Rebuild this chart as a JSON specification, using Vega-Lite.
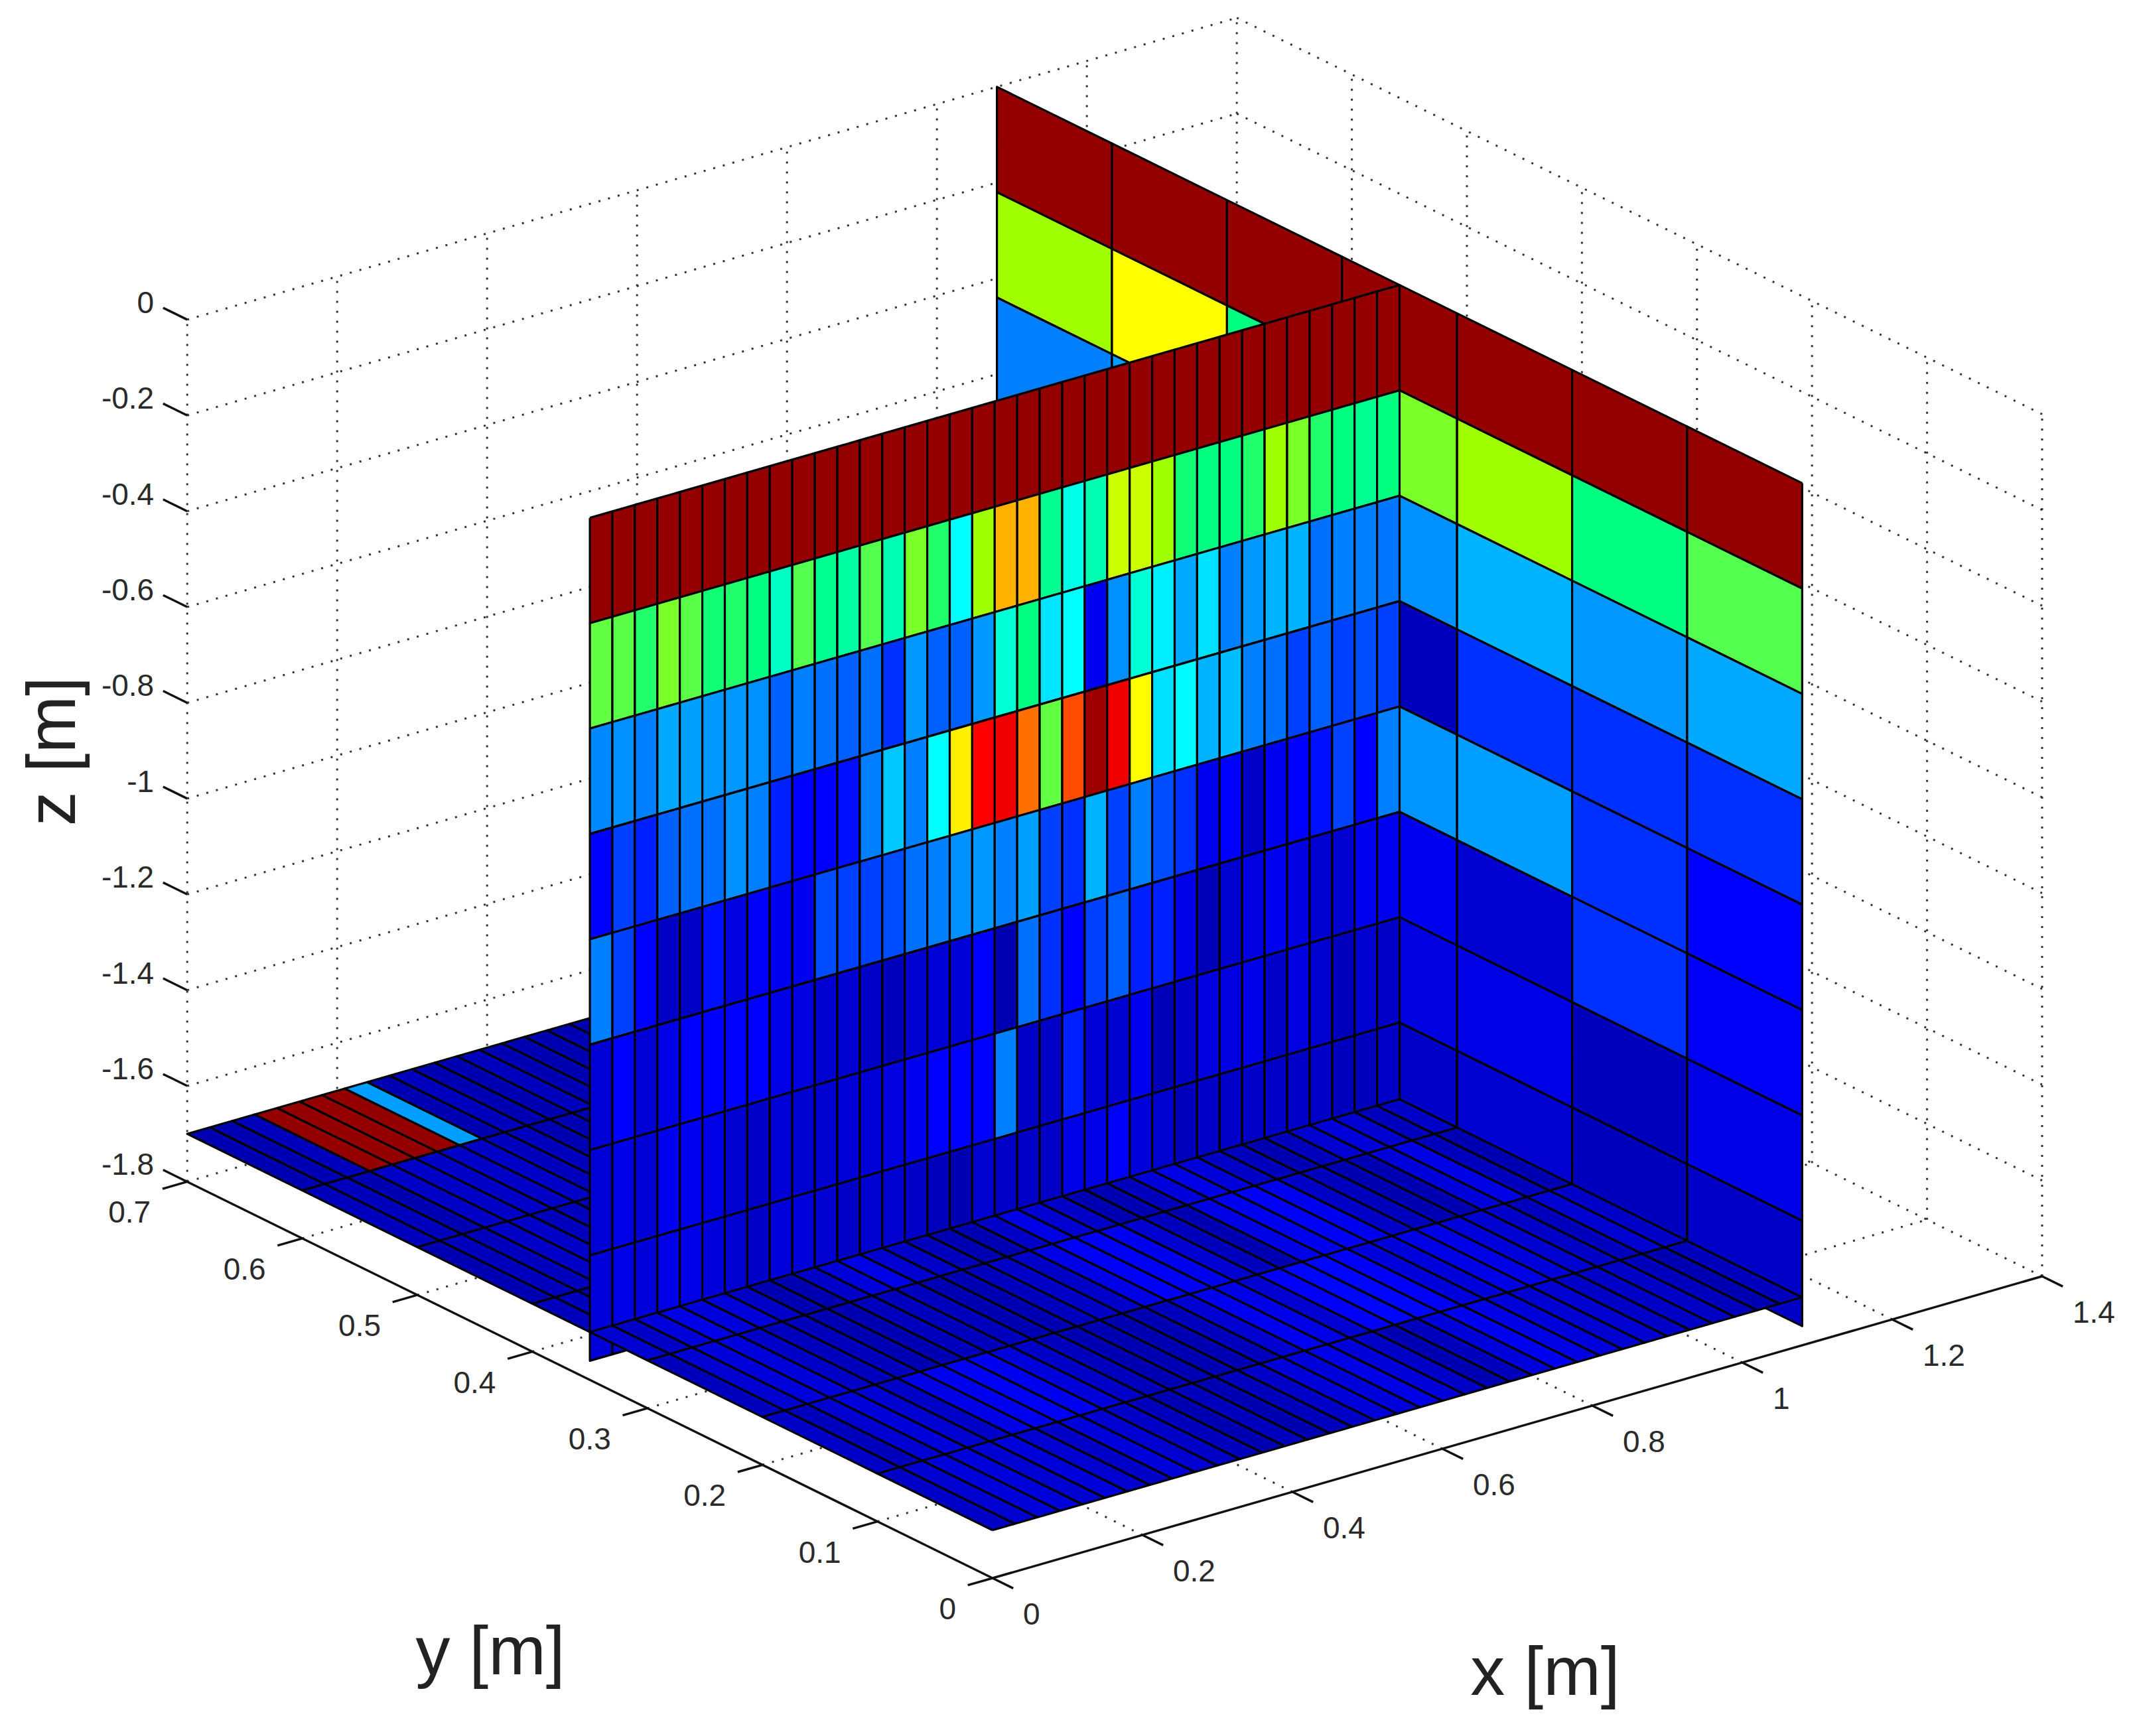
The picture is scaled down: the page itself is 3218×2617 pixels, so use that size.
{"$schema":"https://vega.github.io/schema/vega-lite/v6.json","width":3218,"height":2617,"autosize":{"type":"fit","contains":"padding"},"padding":0,"background":"white","view":{"stroke":null},
"datasets":{
"grid":[
{"x":[0,0],"y":[0.7,0.7],"z":[-1.8,0],"g":1},{"x":[0.2,0.2],"y":[0.7,0.7],"z":[-1.8,0],"g":2},{"x":[0.4,0.4],"y":[0.7,0.7],"z":[-1.8,0],"g":3},{"x":[0.6,0.6],"y":[0.7,0.7],"z":[-1.8,0],"g":4},{"x":[0.8,0.8],"y":[0.7,0.7],"z":[-1.8,0],"g":5},{"x":[1,1],"y":[0.7,0.7],"z":[-1.8,0],"g":6},{"x":[1.2,1.2],"y":[0.7,0.7],"z":[-1.8,0],"g":7},{"x":[1.4,1.4],"y":[0.7,0.7],"z":[-1.8,0],"g":8},
{"x":[1.4,1.4],"y":[0,0],"z":[-1.8,0],"g":9},{"x":[1.4,1.4],"y":[0.1,0.1],"z":[-1.8,0],"g":10},{"x":[1.4,1.4],"y":[0.2,0.2],"z":[-1.8,0],"g":11},{"x":[1.4,1.4],"y":[0.3,0.3],"z":[-1.8,0],"g":12},{"x":[1.4,1.4],"y":[0.4,0.4],"z":[-1.8,0],"g":13},{"x":[1.4,1.4],"y":[0.5,0.5],"z":[-1.8,0],"g":14},{"x":[1.4,1.4],"y":[0.6,0.6],"z":[-1.8,0],"g":15},
{"x":[0,1.4],"y":[0.7,0.7],"z":[0,0],"g":20},{"x":[0,1.4],"y":[0.7,0.7],"z":[-0.2,-0.2],"g":21},{"x":[0,1.4],"y":[0.7,0.7],"z":[-0.4,-0.4],"g":22},{"x":[0,1.4],"y":[0.7,0.7],"z":[-0.6,-0.6],"g":23},{"x":[0,1.4],"y":[0.7,0.7],"z":[-0.8,-0.8],"g":24},{"x":[0,1.4],"y":[0.7,0.7],"z":[-1,-1],"g":25},{"x":[0,1.4],"y":[0.7,0.7],"z":[-1.2,-1.2],"g":26},{"x":[0,1.4],"y":[0.7,0.7],"z":[-1.4,-1.4],"g":27},{"x":[0,1.4],"y":[0.7,0.7],"z":[-1.6,-1.6],"g":28},{"x":[0,1.4],"y":[0.7,0.7],"z":[-1.8,-1.8],"g":29},
{"x":[1.4,1.4],"y":[0,0.7],"z":[0,0],"g":30},{"x":[1.4,1.4],"y":[0,0.7],"z":[-0.2,-0.2],"g":31},{"x":[1.4,1.4],"y":[0,0.7],"z":[-0.4,-0.4],"g":32},{"x":[1.4,1.4],"y":[0,0.7],"z":[-0.6,-0.6],"g":33},{"x":[1.4,1.4],"y":[0,0.7],"z":[-0.8,-0.8],"g":34},{"x":[1.4,1.4],"y":[0,0.7],"z":[-1,-1],"g":35},{"x":[1.4,1.4],"y":[0,0.7],"z":[-1.2,-1.2],"g":36},{"x":[1.4,1.4],"y":[0,0.7],"z":[-1.4,-1.4],"g":37},{"x":[1.4,1.4],"y":[0,0.7],"z":[-1.6,-1.6],"g":38},{"x":[1.4,1.4],"y":[0,0.7],"z":[-1.8,-1.8],"g":39},
{"x":[0.2,0.2],"y":[0,0.7],"z":[-1.8,-1.8],"g":40},{"x":[0.4,0.4],"y":[0,0.7],"z":[-1.8,-1.8],"g":41},{"x":[0.6,0.6],"y":[0,0.7],"z":[-1.8,-1.8],"g":42},{"x":[0.8,0.8],"y":[0,0.7],"z":[-1.8,-1.8],"g":43},{"x":[1,1],"y":[0,0.7],"z":[-1.8,-1.8],"g":44},{"x":[1.2,1.2],"y":[0,0.7],"z":[-1.8,-1.8],"g":45},
{"x":[0,1.4],"y":[0.1,0.1],"z":[-1.8,-1.8],"g":46},{"x":[0,1.4],"y":[0.2,0.2],"z":[-1.8,-1.8],"g":47},{"x":[0,1.4],"y":[0.3,0.3],"z":[-1.8,-1.8],"g":48},{"x":[0,1.4],"y":[0.4,0.4],"z":[-1.8,-1.8],"g":49},{"x":[0,1.4],"y":[0.5,0.5],"z":[-1.8,-1.8],"g":50},{"x":[0,1.4],"y":[0.6,0.6],"z":[-1.8,-1.8],"g":51}
],
"axes":[
{"x":[0,1.4],"y":[0,0],"z":[-1.8,-1.8],"g":1},{"x":[0,0],"y":[0,0.7],"z":[-1.8,-1.8],"g":2},
{"x":[0,0],"y":[0,-0.018],"z":[-1.8,-1.8],"g":3},{"x":[0.2,0.2],"y":[0,-0.018],"z":[-1.8,-1.8],"g":4},{"x":[0.4,0.4],"y":[0,-0.018],"z":[-1.8,-1.8],"g":5},{"x":[0.6,0.6],"y":[0,-0.018],"z":[-1.8,-1.8],"g":6},{"x":[0.8,0.8],"y":[0,-0.018],"z":[-1.8,-1.8],"g":7},{"x":[1,1],"y":[0,-0.018],"z":[-1.8,-1.8],"g":8},{"x":[1.2,1.2],"y":[0,-0.018],"z":[-1.8,-1.8],"g":9},{"x":[1.4,1.4],"y":[0,-0.018],"z":[-1.8,-1.8],"g":10},
{"x":[0,-0.033],"y":[0,0],"z":[-1.8,-1.8],"g":11},{"x":[0,-0.033],"y":[0.1,0.1],"z":[-1.8,-1.8],"g":12},{"x":[0,-0.033],"y":[0.2,0.2],"z":[-1.8,-1.8],"g":13},{"x":[0,-0.033],"y":[0.3,0.3],"z":[-1.8,-1.8],"g":14},{"x":[0,-0.033],"y":[0.4,0.4],"z":[-1.8,-1.8],"g":15},{"x":[0,-0.033],"y":[0.5,0.5],"z":[-1.8,-1.8],"g":16},{"x":[0,-0.033],"y":[0.6,0.6],"z":[-1.8,-1.8],"g":17},{"x":[0,-0.033],"y":[0.7,0.7],"z":[-1.8,-1.8],"g":18},
{"x":[0,0],"y":[0.7,0.721],"z":[0,0],"g":19},{"x":[0,0],"y":[0.7,0.721],"z":[-0.2,-0.2],"g":20},{"x":[0,0],"y":[0.7,0.721],"z":[-0.4,-0.4],"g":21},{"x":[0,0],"y":[0.7,0.721],"z":[-0.6,-0.6],"g":22},{"x":[0,0],"y":[0.7,0.721],"z":[-0.8,-0.8],"g":23},{"x":[0,0],"y":[0.7,0.721],"z":[-1,-1],"g":24},{"x":[0,0],"y":[0.7,0.721],"z":[-1.2,-1.2],"g":25},{"x":[0,0],"y":[0.7,0.721],"z":[-1.4,-1.4],"g":26},{"x":[0,0],"y":[0.7,0.721],"z":[-1.6,-1.6],"g":27},{"x":[0,0],"y":[0.7,0.721],"z":[-1.8,-1.8],"g":28}
],
"cells":[
{"s":"C","y":0.6,"z":0,"c":0.98},{"s":"C","y":0.6,"z":-0.22,"c":0.56},{"s":"C","y":0.6,"z":-0.44,"c":0.25},
{"s":"C","y":0.5,"z":0,"c":0.98},{"s":"C","y":0.5,"z":-0.22,"c":0.625},{"s":"C","y":0.5,"z":-0.44,"c":0.28},
{"s":"C","y":0.4,"z":0,"c":0.98},{"s":"C","y":0.4,"z":-0.22,"c":0.45},
{"s":"C","y":0.3,"z":0,"c":0.98},{"s":"C","y":0.3,"z":-0.22,"c":0.53},{"s":"C","y":0.3,"z":-0.44,"c":0.266},{"s":"C","y":0.3,"z":-0.66,"c":0.06},{"s":"C","y":0.3,"z":-0.88,"c":0.27},{"s":"C","y":0.3,"z":-1.1,"c":0.11},{"s":"C","y":0.3,"z":-1.32,"c":0.095},{"s":"C","y":0.3,"z":-1.54,"c":0.07},
{"s":"C","y":0.2,"z":0,"c":0.98},{"s":"C","y":0.2,"z":-0.22,"c":0.56},{"s":"C","y":0.2,"z":-0.44,"c":0.3},{"s":"C","y":0.2,"z":-0.66,"c":0.172},{"s":"C","y":0.2,"z":-0.88,"c":0.28},{"s":"C","y":0.2,"z":-1.1,"c":0.08},{"s":"C","y":0.2,"z":-1.32,"c":0.1},{"s":"C","y":0.2,"z":-1.54,"c":0.08},
{"s":"C","y":0.1,"z":0,"c":0.98},{"s":"C","y":0.1,"z":-0.22,"c":0.45},{"s":"C","y":0.1,"z":-0.44,"c":0.274},{"s":"C","y":0.1,"z":-0.66,"c":0.172},{"s":"C","y":0.1,"z":-0.88,"c":0.172},{"s":"C","y":0.1,"z":-1.1,"c":0.172},{"s":"C","y":0.1,"z":-1.32,"c":0.06},{"s":"C","y":0.1,"z":-1.54,"c":0.06},
{"s":"C","y":0,"z":0,"c":0.98},{"s":"C","y":0,"z":-0.22,"c":0.5},{"s":"C","y":0,"z":-0.44,"c":0.29},{"s":"C","y":0,"z":-0.66,"c":0.172},{"s":"C","y":0,"z":-0.88,"c":0.125},{"s":"C","y":0,"z":-1.1,"c":0.12},{"s":"C","y":0,"z":-1.32,"c":0.1},{"s":"C","y":0,"z":-1.54,"c":0.07},

{"s":"F","x":0,"y":0.6,"t":0.7,"c":0.05},{"s":"F","x":0.03,"y":0.6,"t":0.7,"c":0.05},{"s":"F","x":0.06,"y":0.6,"t":0.7,"c":0.06},{"s":"F","x":0.09,"y":0.6,"t":0.7,"c":0.98},{"s":"F","x":0.12,"y":0.6,"t":0.7,"c":0.98},{"s":"F","x":0.15,"y":0.6,"t":0.7,"c":0.98},{"s":"F","x":0.18,"y":0.6,"t":0.7,"c":0.98},{"s":"F","x":0.21,"y":0.6,"t":0.7,"c":0.28},{"s":"F","x":0.24,"y":0.6,"t":0.7,"c":0.05},{"s":"F","x":0.27,"y":0.6,"t":0.7,"c":0.06},{"s":"F","x":0.3,"y":0.6,"t":0.7,"c":0.05},{"s":"F","x":0.33,"y":0.6,"t":0.7,"c":0.05},{"s":"F","x":0.36,"y":0.6,"t":0.7,"c":0.06},{"s":"F","x":0.39,"y":0.6,"t":0.7,"c":0.05},{"s":"F","x":0.42,"y":0.6,"t":0.7,"c":0.05},{"s":"F","x":0.45,"y":0.6,"t":0.7,"c":0.05},{"s":"F","x":0.48,"y":0.6,"t":0.7,"c":0.05},{"s":"F","x":0.51,"y":0.6,"t":0.7,"c":0.05},
{"s":"F","x":0,"y":0.5,"t":0.6,"c":0.06},{"s":"F","x":0.03,"y":0.5,"t":0.6,"c":0.06},{"s":"F","x":0.06,"y":0.5,"t":0.6,"c":0.05},{"s":"F","x":0.09,"y":0.5,"t":0.6,"c":0.07},{"s":"F","x":0.12,"y":0.5,"t":0.6,"c":0.07},{"s":"F","x":0.15,"y":0.5,"t":0.6,"c":0.07},{"s":"F","x":0.18,"y":0.5,"t":0.6,"c":0.07},{"s":"F","x":0.21,"y":0.5,"t":0.6,"c":0.07},{"s":"F","x":0.24,"y":0.5,"t":0.6,"c":0.06},{"s":"F","x":0.27,"y":0.5,"t":0.6,"c":0.06},{"s":"F","x":0.3,"y":0.5,"t":0.6,"c":0.05},{"s":"F","x":0.33,"y":0.5,"t":0.6,"c":0.05},{"s":"F","x":0.36,"y":0.5,"t":0.6,"c":0.05},
{"s":"F","x":0,"y":0.4,"t":0.5,"c":0.05},{"s":"F","x":0.03,"y":0.4,"t":0.5,"c":0.06},{"s":"F","x":0.06,"y":0.4,"t":0.5,"c":0.06},{"s":"F","x":0.09,"y":0.4,"t":0.5,"c":0.07},{"s":"F","x":0.12,"y":0.4,"t":0.5,"c":0.07},{"s":"F","x":0.15,"y":0.4,"t":0.5,"c":0.06},{"s":"F","x":0.18,"y":0.4,"t":0.5,"c":0.06},{"s":"F","x":0.21,"y":0.4,"t":0.5,"c":0.05},
{"s":"F","x":0,"y":0.35,"t":0.4,"c":0.06},{"s":"F","x":0.03,"y":0.35,"t":0.4,"c":0.06},{"s":"F","x":0.06,"y":0.35,"t":0.4,"c":0.05},

{"s":"L","x":0,"z":0,"c":0.98},{"s":"L","x":0.03,"z":0,"c":0.98},{"s":"L","x":0.06,"z":0,"c":0.98},{"s":"L","x":0.09,"z":0,"c":0.98},{"s":"L","x":0.12,"z":0,"c":0.98},{"s":"L","x":0.15,"z":0,"c":0.98},{"s":"L","x":0.18,"z":0,"c":0.98},{"s":"L","x":0.21,"z":0,"c":0.98},{"s":"L","x":0.24,"z":0,"c":0.98},{"s":"L","x":0.27,"z":0,"c":0.98},{"s":"L","x":0.3,"z":0,"c":0.98},{"s":"L","x":0.33,"z":0,"c":0.98},{"s":"L","x":0.36,"z":0,"c":0.98},{"s":"L","x":0.39,"z":0,"c":0.98},{"s":"L","x":0.42,"z":0,"c":0.98},{"s":"L","x":0.45,"z":0,"c":0.98},{"s":"L","x":0.48,"z":0,"c":0.98},{"s":"L","x":0.51,"z":0,"c":0.98},{"s":"L","x":0.54,"z":0,"c":0.98},{"s":"L","x":0.57,"z":0,"c":0.98},{"s":"L","x":0.6,"z":0,"c":0.98},{"s":"L","x":0.63,"z":0,"c":0.98},{"s":"L","x":0.66,"z":0,"c":0.98},{"s":"L","x":0.69,"z":0,"c":0.98},{"s":"L","x":0.72,"z":0,"c":0.98},{"s":"L","x":0.75,"z":0,"c":0.98},{"s":"L","x":0.78,"z":0,"c":0.98},{"s":"L","x":0.81,"z":0,"c":0.98},{"s":"L","x":0.84,"z":0,"c":0.98},{"s":"L","x":0.87,"z":0,"c":0.98},{"s":"L","x":0.9,"z":0,"c":0.98},{"s":"L","x":0.93,"z":0,"c":0.98},{"s":"L","x":0.96,"z":0,"c":0.98},{"s":"L","x":0.99,"z":0,"c":0.98},{"s":"L","x":1.02,"z":0,"c":0.98},{"s":"L","x":1.05,"z":0,"c":0.98},

{"s":"L","x":0,"z":-0.22,"c":0.51},{"s":"L","x":0.03,"z":-0.22,"c":0.505},{"s":"L","x":0.06,"z":-0.22,"c":0.47},{"s":"L","x":0.09,"z":-0.22,"c":0.53},{"s":"L","x":0.12,"z":-0.22,"c":0.505},{"s":"L","x":0.15,"z":-0.22,"c":0.46},{"s":"L","x":0.18,"z":-0.22,"c":0.47},{"s":"L","x":0.21,"z":-0.22,"c":0.45},{"s":"L","x":0.24,"z":-0.22,"c":0.41},{"s":"L","x":0.27,"z":-0.22,"c":0.5},{"s":"L","x":0.3,"z":-0.22,"c":0.44},{"s":"L","x":0.33,"z":-0.22,"c":0.43},{"s":"L","x":0.36,"z":-0.22,"c":0.5},{"s":"L","x":0.39,"z":-0.22,"c":0.42},{"s":"L","x":0.42,"z":-0.22,"c":0.53},{"s":"L","x":0.45,"z":-0.22,"c":0.47},{"s":"L","x":0.48,"z":-0.22,"c":0.375},{"s":"L","x":0.51,"z":-0.22,"c":0.56},{"s":"L","x":0.54,"z":-0.22,"c":0.7},{"s":"L","x":0.57,"z":-0.22,"c":0.7},{"s":"L","x":0.6,"z":-0.22,"c":0.44},{"s":"L","x":0.63,"z":-0.22,"c":0.39},{"s":"L","x":0.66,"z":-0.22,"c":0.42},{"s":"L","x":0.69,"z":-0.22,"c":0.59},{"s":"L","x":0.72,"z":-0.22,"c":0.59},{"s":"L","x":0.75,"z":-0.22,"c":0.56},{"s":"L","x":0.78,"z":-0.22,"c":0.46},{"s":"L","x":0.81,"z":-0.22,"c":0.45},{"s":"L","x":0.84,"z":-0.22,"c":0.45},{"s":"L","x":0.87,"z":-0.22,"c":0.47},{"s":"L","x":0.9,"z":-0.22,"c":0.56},{"s":"L","x":0.93,"z":-0.22,"c":0.53},{"s":"L","x":0.96,"z":-0.22,"c":0.47},{"s":"L","x":0.99,"z":-0.22,"c":0.45},{"s":"L","x":1.02,"z":-0.22,"c":0.44},{"s":"L","x":1.05,"z":-0.22,"c":0.45},

{"s":"L","x":0,"z":-0.44,"c":0.258},{"s":"L","x":0.03,"z":-0.44,"c":0.266},{"s":"L","x":0.06,"z":-0.44,"c":0.25},{"s":"L","x":0.09,"z":-0.44,"c":0.29},{"s":"L","x":0.12,"z":-0.44,"c":0.282},{"s":"L","x":0.15,"z":-0.44,"c":0.274},{"s":"L","x":0.18,"z":-0.44,"c":0.274},{"s":"L","x":0.21,"z":-0.44,"c":0.266},{"s":"L","x":0.24,"z":-0.44,"c":0.219},{"s":"L","x":0.27,"z":-0.44,"c":0.25},{"s":"L","x":0.3,"z":-0.44,"c":0.235},{"s":"L","x":0.33,"z":-0.44,"c":0.219},{"s":"L","x":0.36,"z":-0.44,"c":0.235},{"s":"L","x":0.39,"z":-0.44,"c":0.172},{"s":"L","x":0.42,"z":-0.44,"c":0.274},{"s":"L","x":0.45,"z":-0.44,"c":0.219},{"s":"L","x":0.48,"z":-0.44,"c":0.219},{"s":"L","x":0.51,"z":-0.44,"c":0.274},{"s":"L","x":0.54,"z":-0.44,"c":0.4},{"s":"L","x":0.57,"z":-0.44,"c":0.45},{"s":"L","x":0.6,"z":-0.44,"c":0.35},{"s":"L","x":0.63,"z":-0.44,"c":0.375},{"s":"L","x":0.66,"z":-0.44,"c":0.11},{"s":"L","x":0.69,"z":-0.44,"c":0.266},{"s":"L","x":0.72,"z":-0.44,"c":0.4},{"s":"L","x":0.75,"z":-0.44,"c":0.36},{"s":"L","x":0.78,"z":-0.44,"c":0.29},{"s":"L","x":0.81,"z":-0.44,"c":0.345},{"s":"L","x":0.84,"z":-0.44,"c":0.25},{"s":"L","x":0.87,"z":-0.44,"c":0.274},{"s":"L","x":0.9,"z":-0.44,"c":0.3},{"s":"L","x":0.93,"z":-0.44,"c":0.3},{"s":"L","x":0.96,"z":-0.44,"c":0.235},{"s":"L","x":0.99,"z":-0.44,"c":0.25},{"s":"L","x":1.02,"z":-0.44,"c":0.25},{"s":"L","x":1.05,"z":-0.44,"c":0.24},

{"s":"L","x":0,"z":-0.66,"c":0.125},{"s":"L","x":0.03,"z":-0.66,"c":0.188},{"s":"L","x":0.06,"z":-0.66,"c":0.156},{"s":"L","x":0.09,"z":-0.66,"c":0.219},{"s":"L","x":0.12,"z":-0.66,"c":0.235},{"s":"L","x":0.15,"z":-0.66,"c":0.235},{"s":"L","x":0.18,"z":-0.66,"c":0.266},{"s":"L","x":0.21,"z":-0.66,"c":0.25},{"s":"L","x":0.24,"z":-0.66,"c":0.156},{"s":"L","x":0.27,"z":-0.66,"c":0.125},{"s":"L","x":0.3,"z":-0.66,"c":0.125},{"s":"L","x":0.33,"z":-0.66,"c":0.14},{"s":"L","x":0.36,"z":-0.66,"c":0.25},{"s":"L","x":0.39,"z":-0.66,"c":0.32},{"s":"L","x":0.42,"z":-0.66,"c":0.25},{"s":"L","x":0.45,"z":-0.66,"c":0.375},{"s":"L","x":0.48,"z":-0.66,"c":0.64},{"s":"L","x":0.51,"z":-0.66,"c":0.875},{"s":"L","x":0.54,"z":-0.66,"c":0.89},{"s":"L","x":0.57,"z":-0.66,"c":0.765},{"s":"L","x":0.6,"z":-0.66,"c":0.51},{"s":"L","x":0.63,"z":-0.66,"c":0.8},{"s":"L","x":0.66,"z":-0.66,"c":0.97},{"s":"L","x":0.69,"z":-0.66,"c":0.89},{"s":"L","x":0.72,"z":-0.66,"c":0.625},{"s":"L","x":0.75,"z":-0.66,"c":0.345},{"s":"L","x":0.78,"z":-0.66,"c":0.37},{"s":"L","x":0.81,"z":-0.66,"c":0.3},{"s":"L","x":0.84,"z":-0.66,"c":0.31},{"s":"L","x":0.87,"z":-0.66,"c":0.25},{"s":"L","x":0.9,"z":-0.66,"c":0.235},{"s":"L","x":0.93,"z":-0.66,"c":0.188},{"s":"L","x":0.96,"z":-0.66,"c":0.219},{"s":"L","x":0.99,"z":-0.66,"c":0.188},{"s":"L","x":1.02,"z":-0.66,"c":0.2},{"s":"L","x":1.05,"z":-0.66,"c":0.188},

{"s":"L","x":0,"z":-0.88,"c":0.25},{"s":"L","x":0.03,"z":-0.88,"c":0.188},{"s":"L","x":0.06,"z":-0.88,"c":0.125},{"s":"L","x":0.09,"z":-0.88,"c":0.07},{"s":"L","x":0.12,"z":-0.88,"c":0.07},{"s":"L","x":0.15,"z":-0.88,"c":0.14},{"s":"L","x":0.18,"z":-0.88,"c":0.095},{"s":"L","x":0.21,"z":-0.88,"c":0.12},{"s":"L","x":0.24,"z":-0.88,"c":0.11},{"s":"L","x":0.27,"z":-0.88,"c":0.11},{"s":"L","x":0.3,"z":-0.88,"c":0.2},{"s":"L","x":0.33,"z":-0.88,"c":0.188},{"s":"L","x":0.36,"z":-0.88,"c":0.188},{"s":"L","x":0.39,"z":-0.88,"c":0.2},{"s":"L","x":0.42,"z":-0.88,"c":0.235},{"s":"L","x":0.45,"z":-0.88,"c":0.25},{"s":"L","x":0.48,"z":-0.88,"c":0.266},{"s":"L","x":0.51,"z":-0.88,"c":0.274},{"s":"L","x":0.54,"z":-0.88,"c":0.25},{"s":"L","x":0.57,"z":-0.88,"c":0.282},{"s":"L","x":0.6,"z":-0.88,"c":0.188},{"s":"L","x":0.63,"z":-0.88,"c":0.172},{"s":"L","x":0.66,"z":-0.88,"c":0.3},{"s":"L","x":0.69,"z":-0.88,"c":0.188},{"s":"L","x":0.72,"z":-0.88,"c":0.25},{"s":"L","x":0.75,"z":-0.88,"c":0.2},{"s":"L","x":0.78,"z":-0.88,"c":0.172},{"s":"L","x":0.81,"z":-0.88,"c":0.11},{"s":"L","x":0.84,"z":-0.88,"c":0.125},{"s":"L","x":0.87,"z":-0.88,"c":0.07},{"s":"L","x":0.9,"z":-0.88,"c":0.11},{"s":"L","x":0.93,"z":-0.88,"c":0.125},{"s":"L","x":0.96,"z":-0.88,"c":0.14},{"s":"L","x":0.99,"z":-0.88,"c":0.19},{"s":"L","x":1.02,"z":-0.88,"c":0.125},{"s":"L","x":1.05,"z":-0.88,"c":0.25},

{"s":"L","x":0,"z":-1.1,"c":0.085},{"s":"L","x":0.03,"z":-1.1,"c":0.125},{"s":"L","x":0.06,"z":-1.1,"c":0.085},{"s":"L","x":0.09,"z":-1.1,"c":0.1},{"s":"L","x":0.12,"z":-1.1,"c":0.125},{"s":"L","x":0.15,"z":-1.1,"c":0.125},{"s":"L","x":0.18,"z":-1.1,"c":0.125},{"s":"L","x":0.21,"z":-1.1,"c":0.125},{"s":"L","x":0.24,"z":-1.1,"c":0.1},{"s":"L","x":0.27,"z":-1.1,"c":0.095},{"s":"L","x":0.3,"z":-1.1,"c":0.08},{"s":"L","x":0.33,"z":-1.1,"c":0.08},{"s":"L","x":0.36,"z":-1.1,"c":0.07},{"s":"L","x":0.39,"z":-1.1,"c":0.06},{"s":"L","x":0.42,"z":-1.1,"c":0.08},{"s":"L","x":0.45,"z":-1.1,"c":0.085},{"s":"L","x":0.48,"z":-1.1,"c":0.085},{"s":"L","x":0.51,"z":-1.1,"c":0.125},{"s":"L","x":0.54,"z":-1.1,"c":0.05},{"s":"L","x":0.57,"z":-1.1,"c":0.235},{"s":"L","x":0.6,"z":-1.1,"c":0.172},{"s":"L","x":0.63,"z":-1.1,"c":0.125},{"s":"L","x":0.66,"z":-1.1,"c":0.188},{"s":"L","x":0.69,"z":-1.1,"c":0.219},{"s":"L","x":0.72,"z":-1.1,"c":0.156},{"s":"L","x":0.75,"z":-1.1,"c":0.156},{"s":"L","x":0.78,"z":-1.1,"c":0.1},{"s":"L","x":0.81,"z":-1.1,"c":0.055},{"s":"L","x":0.84,"z":-1.1,"c":0.08},{"s":"L","x":0.87,"z":-1.1,"c":0.095},{"s":"L","x":0.9,"z":-1.1,"c":0.11},{"s":"L","x":0.93,"z":-1.1,"c":0.095},{"s":"L","x":0.96,"z":-1.1,"c":0.08},{"s":"L","x":0.99,"z":-1.1,"c":0.08},{"s":"L","x":1.02,"z":-1.1,"c":0.11},{"s":"L","x":1.05,"z":-1.1,"c":0.11},

{"s":"L","x":0,"z":-1.32,"c":0.085},{"s":"L","x":0.03,"z":-1.32,"c":0.1},{"s":"L","x":0.06,"z":-1.32,"c":0.085},{"s":"L","x":0.09,"z":-1.32,"c":0.11},{"s":"L","x":0.12,"z":-1.32,"c":0.11},{"s":"L","x":0.15,"z":-1.32,"c":0.1},{"s":"L","x":0.18,"z":-1.32,"c":0.08},{"s":"L","x":0.21,"z":-1.32,"c":0.07},{"s":"L","x":0.24,"z":-1.32,"c":0.085},{"s":"L","x":0.27,"z":-1.32,"c":0.08},{"s":"L","x":0.3,"z":-1.32,"c":0.08},{"s":"L","x":0.33,"z":-1.32,"c":0.085},{"s":"L","x":0.36,"z":-1.32,"c":0.085},{"s":"L","x":0.39,"z":-1.32,"c":0.095},{"s":"L","x":0.42,"z":-1.32,"c":0.11},{"s":"L","x":0.45,"z":-1.32,"c":0.125},{"s":"L","x":0.48,"z":-1.32,"c":0.125},{"s":"L","x":0.51,"z":-1.32,"c":0.125},{"s":"L","x":0.54,"z":-1.32,"c":0.25},{"s":"L","x":0.57,"z":-1.32,"c":0.07},{"s":"L","x":0.6,"z":-1.32,"c":0.07},{"s":"L","x":0.63,"z":-1.32,"c":0.156},{"s":"L","x":0.66,"z":-1.32,"c":0.085},{"s":"L","x":0.69,"z":-1.32,"c":0.08},{"s":"L","x":0.72,"z":-1.32,"c":0.11},{"s":"L","x":0.75,"z":-1.32,"c":0.055},{"s":"L","x":0.78,"z":-1.32,"c":0.07},{"s":"L","x":0.81,"z":-1.32,"c":0.095},{"s":"L","x":0.84,"z":-1.32,"c":0.095},{"s":"L","x":0.87,"z":-1.32,"c":0.1},{"s":"L","x":0.9,"z":-1.32,"c":0.07},{"s":"L","x":0.93,"z":-1.32,"c":0.095},{"s":"L","x":0.96,"z":-1.32,"c":0.08},{"s":"L","x":0.99,"z":-1.32,"c":0.06},{"s":"L","x":1.02,"z":-1.32,"c":0.08},{"s":"L","x":1.05,"z":-1.32,"c":0.07},

{"s":"L","x":0,"z":-1.54,"c":0.09},{"s":"L","x":0.03,"z":-1.54,"c":0.1},{"s":"L","x":0.06,"z":-1.54,"c":0.09},{"s":"L","x":0.09,"z":-1.54,"c":0.1},{"s":"L","x":0.12,"z":-1.54,"c":0.1},{"s":"L","x":0.15,"z":-1.54,"c":0.09},{"s":"L","x":0.18,"z":-1.54,"c":0.08},{"s":"L","x":0.21,"z":-1.54,"c":0.07},{"s":"L","x":0.24,"z":-1.54,"c":0.09},{"s":"L","x":0.27,"z":-1.54,"c":0.09},{"s":"L","x":0.3,"z":-1.54,"c":0.08},{"s":"L","x":0.33,"z":-1.54,"c":0.07},{"s":"L","x":0.36,"z":-1.54,"c":0.08},{"s":"L","x":0.39,"z":-1.54,"c":0.08},{"s":"L","x":0.42,"z":-1.54,"c":0.07},{"s":"L","x":0.45,"z":-1.54,"c":0.06},{"s":"L","x":0.48,"z":-1.54,"c":0.05},{"s":"L","x":0.51,"z":-1.54,"c":0.08},{"s":"L","x":0.54,"z":-1.54,"c":0.07},{"s":"L","x":0.57,"z":-1.54,"c":0.07},{"s":"L","x":0.6,"z":-1.54,"c":0.07},{"s":"L","x":0.63,"z":-1.54,"c":0.1},{"s":"L","x":0.66,"z":-1.54,"c":0.1},{"s":"L","x":0.69,"z":-1.54,"c":0.12},{"s":"L","x":0.72,"z":-1.54,"c":0.09},{"s":"L","x":0.75,"z":-1.54,"c":0.08},{"s":"L","x":0.78,"z":-1.54,"c":0.06},{"s":"L","x":0.81,"z":-1.54,"c":0.07},{"s":"L","x":0.84,"z":-1.54,"c":0.07},{"s":"L","x":0.87,"z":-1.54,"c":0.07},{"s":"L","x":0.9,"z":-1.54,"c":0.07},{"s":"L","x":0.93,"z":-1.54,"c":0.07},{"s":"L","x":0.96,"z":-1.54,"c":0.07},{"s":"L","x":0.99,"z":-1.54,"c":0.06},{"s":"L","x":1.02,"z":-1.54,"c":0.06},{"s":"L","x":1.05,"z":-1.54,"c":0.07},

{"s":"F","x":0,"y":0.3,"t":0.35,"c":0.08},{"s":"F","x":0.03,"y":0.3,"t":0.35,"c":0.07},{"s":"F","x":0.06,"y":0.3,"t":0.35,"c":0.09},{"s":"F","x":0.09,"y":0.3,"t":0.35,"c":0.1},{"s":"F","x":0.12,"y":0.3,"t":0.35,"c":0.09},{"s":"F","x":0.15,"y":0.3,"t":0.35,"c":0.09},{"s":"F","x":0.18,"y":0.3,"t":0.35,"c":0.07},{"s":"F","x":0.21,"y":0.3,"t":0.35,"c":0.05},{"s":"F","x":0.24,"y":0.3,"t":0.35,"c":0.05},{"s":"F","x":0.27,"y":0.3,"t":0.35,"c":0.07},{"s":"F","x":0.3,"y":0.3,"t":0.35,"c":0.09},{"s":"F","x":0.33,"y":0.3,"t":0.35,"c":0.1},{"s":"F","x":0.36,"y":0.3,"t":0.35,"c":0.08},{"s":"F","x":0.39,"y":0.3,"t":0.35,"c":0.07},{"s":"F","x":0.42,"y":0.3,"t":0.35,"c":0.06},{"s":"F","x":0.45,"y":0.3,"t":0.35,"c":0.05},{"s":"F","x":0.48,"y":0.3,"t":0.35,"c":0.05},{"s":"F","x":0.51,"y":0.3,"t":0.35,"c":0.07},{"s":"F","x":0.54,"y":0.3,"t":0.35,"c":0.1},{"s":"F","x":0.57,"y":0.3,"t":0.35,"c":0.08},{"s":"F","x":0.6,"y":0.3,"t":0.35,"c":0.07},{"s":"F","x":0.63,"y":0.3,"t":0.35,"c":0.05},{"s":"F","x":0.66,"y":0.3,"t":0.35,"c":0.05},{"s":"F","x":0.69,"y":0.3,"t":0.35,"c":0.06},{"s":"F","x":0.72,"y":0.3,"t":0.35,"c":0.09},{"s":"F","x":0.75,"y":0.3,"t":0.35,"c":0.1},{"s":"F","x":0.78,"y":0.3,"t":0.35,"c":0.09},{"s":"F","x":0.81,"y":0.3,"t":0.35,"c":0.07},{"s":"F","x":0.84,"y":0.3,"t":0.35,"c":0.06},{"s":"F","x":0.87,"y":0.3,"t":0.35,"c":0.05},{"s":"F","x":0.9,"y":0.3,"t":0.35,"c":0.06},{"s":"F","x":0.93,"y":0.3,"t":0.35,"c":0.08},{"s":"F","x":0.96,"y":0.3,"t":0.35,"c":0.09},{"s":"F","x":0.99,"y":0.3,"t":0.35,"c":0.08},{"s":"F","x":1.02,"y":0.3,"t":0.35,"c":0.06},{"s":"F","x":1.05,"y":0.3,"t":0.35,"c":0.07},

{"s":"F","x":0,"y":0.2,"t":0.3,"c":0.06},{"s":"F","x":0.03,"y":0.2,"t":0.3,"c":0.08},{"s":"F","x":0.06,"y":0.2,"t":0.3,"c":0.09},{"s":"F","x":0.09,"y":0.2,"t":0.3,"c":0.09},{"s":"F","x":0.12,"y":0.2,"t":0.3,"c":0.07},{"s":"F","x":0.15,"y":0.2,"t":0.3,"c":0.06},{"s":"F","x":0.18,"y":0.2,"t":0.3,"c":0.06},{"s":"F","x":0.21,"y":0.2,"t":0.3,"c":0.05},{"s":"F","x":0.24,"y":0.2,"t":0.3,"c":0.05},{"s":"F","x":0.27,"y":0.2,"t":0.3,"c":0.06},{"s":"F","x":0.3,"y":0.2,"t":0.3,"c":0.06},{"s":"F","x":0.33,"y":0.2,"t":0.3,"c":0.06},{"s":"F","x":0.36,"y":0.2,"t":0.3,"c":0.05},{"s":"F","x":0.39,"y":0.2,"t":0.3,"c":0.05},{"s":"F","x":0.42,"y":0.2,"t":0.3,"c":0.06},{"s":"F","x":0.45,"y":0.2,"t":0.3,"c":0.07},{"s":"F","x":0.48,"y":0.2,"t":0.3,"c":0.07},{"s":"F","x":0.51,"y":0.2,"t":0.3,"c":0.1},{"s":"F","x":0.54,"y":0.2,"t":0.3,"c":0.12},{"s":"F","x":0.57,"y":0.2,"t":0.3,"c":0.12},{"s":"F","x":0.6,"y":0.2,"t":0.3,"c":0.11},{"s":"F","x":0.63,"y":0.2,"t":0.3,"c":0.08},{"s":"F","x":0.66,"y":0.2,"t":0.3,"c":0.06},{"s":"F","x":0.69,"y":0.2,"t":0.3,"c":0.05},{"s":"F","x":0.72,"y":0.2,"t":0.3,"c":0.1},{"s":"F","x":0.75,"y":0.2,"t":0.3,"c":0.11},{"s":"F","x":0.78,"y":0.2,"t":0.3,"c":0.12},{"s":"F","x":0.81,"y":0.2,"t":0.3,"c":0.11},{"s":"F","x":0.84,"y":0.2,"t":0.3,"c":0.07},{"s":"F","x":0.87,"y":0.2,"t":0.3,"c":0.06},{"s":"F","x":0.9,"y":0.2,"t":0.3,"c":0.05},{"s":"F","x":0.93,"y":0.2,"t":0.3,"c":0.05},{"s":"F","x":0.96,"y":0.2,"t":0.3,"c":0.09},{"s":"F","x":0.99,"y":0.2,"t":0.3,"c":0.1},{"s":"F","x":1.02,"y":0.2,"t":0.3,"c":0.06},{"s":"F","x":1.05,"y":0.2,"t":0.3,"c":0.05},

{"s":"F","x":0,"y":0.1,"t":0.2,"c":0.07},{"s":"F","x":0.03,"y":0.1,"t":0.2,"c":0.06},{"s":"F","x":0.06,"y":0.1,"t":0.2,"c":0.08},{"s":"F","x":0.09,"y":0.1,"t":0.2,"c":0.09},{"s":"F","x":0.12,"y":0.1,"t":0.2,"c":0.08},{"s":"F","x":0.15,"y":0.1,"t":0.2,"c":0.07},{"s":"F","x":0.18,"y":0.1,"t":0.2,"c":0.1},{"s":"F","x":0.21,"y":0.1,"t":0.2,"c":0.11},{"s":"F","x":0.24,"y":0.1,"t":0.2,"c":0.12},{"s":"F","x":0.27,"y":0.1,"t":0.2,"c":0.11},{"s":"F","x":0.3,"y":0.1,"t":0.2,"c":0.09},{"s":"F","x":0.33,"y":0.1,"t":0.2,"c":0.07},{"s":"F","x":0.36,"y":0.1,"t":0.2,"c":0.06},{"s":"F","x":0.39,"y":0.1,"t":0.2,"c":0.05},{"s":"F","x":0.42,"y":0.1,"t":0.2,"c":0.05},{"s":"F","x":0.45,"y":0.1,"t":0.2,"c":0.05},{"s":"F","x":0.48,"y":0.1,"t":0.2,"c":0.05},{"s":"F","x":0.51,"y":0.1,"t":0.2,"c":0.06},{"s":"F","x":0.54,"y":0.1,"t":0.2,"c":0.08},{"s":"F","x":0.57,"y":0.1,"t":0.2,"c":0.11},{"s":"F","x":0.6,"y":0.1,"t":0.2,"c":0.1},{"s":"F","x":0.63,"y":0.1,"t":0.2,"c":0.08},{"s":"F","x":0.66,"y":0.1,"t":0.2,"c":0.12},{"s":"F","x":0.69,"y":0.1,"t":0.2,"c":0.13},{"s":"F","x":0.72,"y":0.1,"t":0.2,"c":0.13},{"s":"F","x":0.75,"y":0.1,"t":0.2,"c":0.12},{"s":"F","x":0.78,"y":0.1,"t":0.2,"c":0.09},{"s":"F","x":0.81,"y":0.1,"t":0.2,"c":0.09},{"s":"F","x":0.84,"y":0.1,"t":0.2,"c":0.1},{"s":"F","x":0.87,"y":0.1,"t":0.2,"c":0.1},{"s":"F","x":0.9,"y":0.1,"t":0.2,"c":0.09},{"s":"F","x":0.93,"y":0.1,"t":0.2,"c":0.08},{"s":"F","x":0.96,"y":0.1,"t":0.2,"c":0.07},{"s":"F","x":0.99,"y":0.1,"t":0.2,"c":0.06},{"s":"F","x":1.02,"y":0.1,"t":0.2,"c":0.08},{"s":"F","x":1.05,"y":0.1,"t":0.2,"c":0.07},

{"s":"F","x":0,"y":0,"t":0.1,"c":0.07},{"s":"F","x":0.03,"y":0,"t":0.1,"c":0.08},{"s":"F","x":0.06,"y":0,"t":0.1,"c":0.09},{"s":"F","x":0.09,"y":0,"t":0.1,"c":0.09},{"s":"F","x":0.12,"y":0,"t":0.1,"c":0.08},{"s":"F","x":0.15,"y":0,"t":0.1,"c":0.09},{"s":"F","x":0.18,"y":0,"t":0.1,"c":0.08},{"s":"F","x":0.21,"y":0,"t":0.1,"c":0.07},{"s":"F","x":0.24,"y":0,"t":0.1,"c":0.09},{"s":"F","x":0.27,"y":0,"t":0.1,"c":0.08},{"s":"F","x":0.3,"y":0,"t":0.1,"c":0.07},{"s":"F","x":0.33,"y":0,"t":0.1,"c":0.06},{"s":"F","x":0.36,"y":0,"t":0.1,"c":0.05},{"s":"F","x":0.39,"y":0,"t":0.1,"c":0.06},{"s":"F","x":0.42,"y":0,"t":0.1,"c":0.05},{"s":"F","x":0.45,"y":0,"t":0.1,"c":0.06},{"s":"F","x":0.48,"y":0,"t":0.1,"c":0.07},{"s":"F","x":0.51,"y":0,"t":0.1,"c":0.09},{"s":"F","x":0.54,"y":0,"t":0.1,"c":0.09},{"s":"F","x":0.57,"y":0,"t":0.1,"c":0.1},{"s":"F","x":0.6,"y":0,"t":0.1,"c":0.09},{"s":"F","x":0.63,"y":0,"t":0.1,"c":0.07},{"s":"F","x":0.66,"y":0,"t":0.1,"c":0.05},{"s":"F","x":0.69,"y":0,"t":0.1,"c":0.06},{"s":"F","x":0.72,"y":0,"t":0.1,"c":0.09},{"s":"F","x":0.75,"y":0,"t":0.1,"c":0.11},{"s":"F","x":0.78,"y":0,"t":0.1,"c":0.1},{"s":"F","x":0.81,"y":0,"t":0.1,"c":0.09},{"s":"F","x":0.84,"y":0,"t":0.1,"c":0.08},{"s":"F","x":0.87,"y":0,"t":0.1,"c":0.08},{"s":"F","x":0.9,"y":0,"t":0.1,"c":0.07},{"s":"F","x":0.93,"y":0,"t":0.1,"c":0.07},{"s":"F","x":0.96,"y":0,"t":0.1,"c":0.07},{"s":"F","x":0.99,"y":0,"t":0.1,"c":0.06},{"s":"F","x":1.02,"y":0,"t":0.1,"c":0.05},{"s":"F","x":1.05,"y":0,"t":0.1,"c":0.06}
]},
"layer":[
{"data":{"name":"grid"},"transform":[{"flatten":["x","y","z"]},{"calculate":"1496+1130*datum.x-1734*datum.y","as":"u"},{"calculate":"2379-325*datum.x-853.6*datum.y-722*(datum.z+1.8)","as":"v"}],
"mark":{"type":"line","stroke":"#333333","strokeWidth":3,"strokeDash":[3,12],"clip":false},
"encoding":{"x":{"field":"u","type":"quantitative","scale":{"domain":[0,3218],"nice":false,"zero":false},"axis":null},"y":{"field":"v","type":"quantitative","scale":{"domain":[2617,0],"nice":false,"zero":false},"axis":null},"detail":{"field":"g","type":"nominal"}}},
{"data":{"name":"axes"},"transform":[{"flatten":["x","y","z"]},{"calculate":"1496+1130*datum.x-1734*datum.y","as":"u"},{"calculate":"2379-325*datum.x-853.6*datum.y-722*(datum.z+1.8)","as":"v"}],
"mark":{"type":"line","stroke":"#111111","strokeWidth":3.4,"clip":false},
"encoding":{"x":{"field":"u","type":"quantitative","scale":{"domain":[0,3218],"nice":false,"zero":false},"axis":null},"y":{"field":"v","type":"quantitative","scale":{"domain":[2617,0],"nice":false,"zero":false},"axis":null},"detail":{"field":"g","type":"nominal"}}},
{"data":{"name":"cells"},"transform":[{"calculate":"[0,1,2,3,4]","as":"k"},{"flatten":["k"]},{"calculate":"(datum.k==1||datum.k==2)?1:0","as":"a"},{"calculate":"(datum.k==2||datum.k==3)?1:0","as":"b"},
{"calculate":"datum.s=='C'?1.08:datum.x+datum.a*0.03","as":"X"},{"calculate":"datum.s=='L'?0.35:(datum.s=='C'?datum.y+datum.a*0.1:datum.y+datum.b*(datum.t-datum.y))","as":"Y"},{"calculate":"datum.s=='F'?-1.7:datum.z-datum.b*0.22","as":"Z"},
{"calculate":"1496+1130*datum.X-1734*datum.Y","as":"u"},{"calculate":"2379-325*datum.X-853.6*datum.Y-722*(datum.Z+1.8)","as":"v"},{"calculate":"datum.s+'|'+datum.x+'|'+datum.y+'|'+datum.z","as":"id"}],
"mark":{"type":"line","stroke":"#000000","strokeWidth":3.2,"strokeJoin":"round","clip":false},
"encoding":{"x":{"field":"u","type":"quantitative","scale":{"domain":[0,3218],"nice":false,"zero":false},"axis":null},"y":{"field":"v","type":"quantitative","scale":{"domain":[2617,0],"nice":false,"zero":false},"axis":null},"detail":{"field":"id","type":"nominal"},"order":{"field":"k","type":"quantitative"},
"fill":{"field":"c","type":"quantitative","legend":null,"scale":{"interpolate":"rgb","domain":[0,0.125,0.375,0.45,0.5,0.56,0.625,0.875,1],"range":["#000080","#0000ff","#00ffff","#00ff80","#55ff50","#a0ff00","#ffff00","#ff0000","#800000"]}}}},
{"data":{"values":[{"t":"0","x":0,"y":0,"z":-1.8},{"t":"0.2","x":0.2,"y":0,"z":-1.8},{"t":"0.4","x":0.4,"y":0,"z":-1.8},{"t":"0.6","x":0.6,"y":0,"z":-1.8},{"t":"0.8","x":0.8,"y":0,"z":-1.8},{"t":"1","x":1,"y":0,"z":-1.8},{"t":"1.2","x":1.2,"y":0,"z":-1.8},{"t":"1.4","x":1.4,"y":0,"z":-1.8}]},"transform":[{"calculate":"1496+1130*datum.x-1734*datum.y","as":"u"},{"calculate":"2379-325*datum.x-853.6*datum.y-722*(datum.z+1.8)","as":"v"}],
"mark":{"type":"text","font":"Liberation Sans","fontSize":46,"color":"#2a2a2a","align":"left","baseline":"middle","dx":46,"dy":56},
"encoding":{"x":{"field":"u","type":"quantitative","scale":{"domain":[0,3218],"nice":false,"zero":false},"axis":null},"y":{"field":"v","type":"quantitative","scale":{"domain":[2617,0],"nice":false,"zero":false},"axis":null},"text":{"field":"t","type":"nominal"}}},
{"data":{"values":[{"t":"0","x":0,"y":0,"z":-1.8},{"t":"0.1","x":0,"y":0.1,"z":-1.8},{"t":"0.2","x":0,"y":0.2,"z":-1.8},{"t":"0.3","x":0,"y":0.3,"z":-1.8},{"t":"0.4","x":0,"y":0.4,"z":-1.8},{"t":"0.5","x":0,"y":0.5,"z":-1.8},{"t":"0.6","x":0,"y":0.6,"z":-1.8},{"t":"0.7","x":0,"y":0.7,"z":-1.8}]},"transform":[{"calculate":"1496+1130*datum.x-1734*datum.y","as":"u"},{"calculate":"2379-325*datum.x-853.6*datum.y-722*(datum.z+1.8)","as":"v"}],
"mark":{"type":"text","font":"Liberation Sans","fontSize":46,"color":"#2a2a2a","align":"right","baseline":"middle","dx":-55,"dy":48},
"encoding":{"x":{"field":"u","type":"quantitative","scale":{"domain":[0,3218],"nice":false,"zero":false},"axis":null},"y":{"field":"v","type":"quantitative","scale":{"domain":[2617,0],"nice":false,"zero":false},"axis":null},"text":{"field":"t","type":"nominal"}}},
{"data":{"values":[{"t":"0","x":0,"y":0.7,"z":0},{"t":"-0.2","x":0,"y":0.7,"z":-0.2},{"t":"-0.4","x":0,"y":0.7,"z":-0.4},{"t":"-0.6","x":0,"y":0.7,"z":-0.6},{"t":"-0.8","x":0,"y":0.7,"z":-0.8},{"t":"-1","x":0,"y":0.7,"z":-1},{"t":"-1.2","x":0,"y":0.7,"z":-1.2},{"t":"-1.4","x":0,"y":0.7,"z":-1.4},{"t":"-1.6","x":0,"y":0.7,"z":-1.6},{"t":"-1.8","x":0,"y":0.7,"z":-1.8}]},"transform":[{"calculate":"1496+1130*datum.x-1734*datum.y","as":"u"},{"calculate":"2379-325*datum.x-853.6*datum.y-722*(datum.z+1.8)","as":"v"}],
"mark":{"type":"text","font":"Liberation Sans","fontSize":46,"color":"#2a2a2a","align":"right","baseline":"middle","dx":-50,"dy":-24},
"encoding":{"x":{"field":"u","type":"quantitative","scale":{"domain":[0,3218],"nice":false,"zero":false},"axis":null},"y":{"field":"v","type":"quantitative","scale":{"domain":[2617,0],"nice":false,"zero":false},"axis":null},"text":{"field":"t","type":"nominal"}}},
{"data":{"values":[{"t":"x [m]","x":0.7,"y":0,"z":-1.8}]},"transform":[{"calculate":"1496+1130*datum.x-1734*datum.y","as":"u"},{"calculate":"2379-325*datum.x-853.6*datum.y-722*(datum.z+1.8)","as":"v"}],
"mark":{"type":"text","font":"Liberation Sans","fontSize":104,"color":"#222222","align":"center","baseline":"middle","dx":42,"dy":372},
"encoding":{"x":{"field":"u","type":"quantitative","scale":{"domain":[0,3218],"nice":false,"zero":false},"axis":null},"y":{"field":"v","type":"quantitative","scale":{"domain":[2617,0],"nice":false,"zero":false},"axis":null},"text":{"field":"t","type":"nominal"}}},
{"data":{"values":[{"t":"y [m]","x":0,"y":0.35,"z":-1.8}]},"transform":[{"calculate":"1496+1130*datum.x-1734*datum.y","as":"u"},{"calculate":"2379-325*datum.x-853.6*datum.y-722*(datum.z+1.8)","as":"v"}],
"mark":{"type":"text","font":"Liberation Sans","fontSize":104,"color":"#222222","align":"center","baseline":"middle","dx":-150,"dy":413},
"encoding":{"x":{"field":"u","type":"quantitative","scale":{"domain":[0,3218],"nice":false,"zero":false},"axis":null},"y":{"field":"v","type":"quantitative","scale":{"domain":[2617,0],"nice":false,"zero":false},"axis":null},"text":{"field":"t","type":"nominal"}}},
{"data":{"values":[{"t":"z [m]","x":0,"y":0.7,"z":-0.9}]},"transform":[{"calculate":"1496+1130*datum.x-1734*datum.y","as":"u"},{"calculate":"2379-325*datum.x-853.6*datum.y-722*(datum.z+1.8)","as":"v"}],
"mark":{"type":"text","font":"Liberation Sans","fontSize":104,"color":"#222222","align":"center","baseline":"middle","angle":270,"dx":-1,"dy":-200},
"encoding":{"x":{"field":"u","type":"quantitative","scale":{"domain":[0,3218],"nice":false,"zero":false},"axis":null},"y":{"field":"v","type":"quantitative","scale":{"domain":[2617,0],"nice":false,"zero":false},"axis":null},"text":{"field":"t","type":"nominal"}}}
],
"resolve":{"scale":{"x":"shared","y":"shared"}}}
